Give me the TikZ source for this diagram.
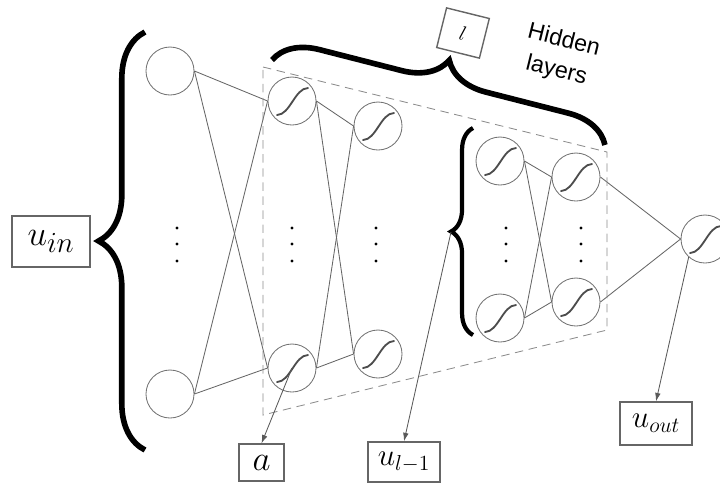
\documentclass[tikz,border=0pt]{standalone}
\usepackage{fontspec}
\newfontfamily\hfont{Liberation Sans}
\usetikzlibrary{calc, positioning, decorations.pathreplacing, arrows.meta}
\usepackage{amsmath}

\begin{document}
\begin{tikzpicture}[x=0.025cm, y=-0.025cm,
  neuron/.style={draw=black!55, line width=0.6pt, circle, minimum size=1.2cm, inner sep=0pt},
  sig/.style={neuron, path picture={\draw[black!70, line width=1.3pt, line cap=round]
    ([shift={(-15,14)}]path picture bounding box.center) .. controls +(13,0) and +(-13,0) .. ([shift={(16,-13)}]path picture bounding box.center);}},
  wire/.style={black!60, line width=0.6pt},
  lbl/.style={draw=black!60, line width=1pt, inner sep=0pt},
  brc/.style={decorate, decoration={brace, amplitude=#1}, line width=4pt},
  pick/.style={black!65, line width=0.6pt, -{Latex[length=6pt, width=4pt]}}]
\useasboundingbox (0,0) rectangle (720,483);

% neurons
\node[neuron] (i1) at (170,71) {};
\node[neuron] (i2) at (170,394) {};
\node[sig] (h1a) at (292,101) {};
\node[sig] (h1b) at (292,368) {};
\node[sig] (h2a) at (378,126) {};
\node[sig] (h2b) at (378,354) {};
\node[sig] (h3a) at (500,161) {};
\node[sig] (h3b) at (500,318) {};
\node[sig] (h4a) at (576,177) {};
\node[sig] (h4b) at (576,302) {};
\node[sig] (out) at (705,239) {};

% vertical dots
\foreach \x in {177,292,376,506,581}
  \foreach \y in {228,244,261} \fill (\x,\y) circle (1.1pt);

% connections
\foreach \a in {i1,i2} \foreach \b in {h1a,h1b} \draw[wire] (\a.east) -- (\b.west);
\foreach \a in {h1a,h1b} \foreach \b in {h2a,h2b} \draw[wire] (\a.east) -- (\b.west);
\foreach \a in {h3a,h3b} \foreach \b in {h4a,h4b} \draw[wire] (\a.east) -- (\b.west);
\foreach \a in {h4a,h4b} \draw[wire] (\a.east) -- (out.west);

% hidden block
\draw[black!45, line width=0.6pt, dash pattern=on 6pt off 4pt] (263,67) -- (607,152) -- (607,330) -- (263,415) -- cycle;

% braces
\draw[brc=33pt] (145,450) -- (145,32);
\draw[brc=31pt] (272,60) -- (605,145);
\draw[brc=15.6pt, line width=3pt] (473,335) -- (473,128);
\coordinate (ltip) at (451,232);

% labels
\node[lbl, minimum width=1.95cm, minimum height=1.27cm] (uin) at (51,241.5) {\Huge $u_{in}$};
\node[lbl, minimum width=1.1cm, minimum height=1.02cm, rotate=-14] (l) at (463,33) {\Large $l$};
\node[lbl, minimum width=1.12cm, minimum height=0.92cm] (a) at (261.5,462.5) {\Huge $a$};
\node[lbl, minimum width=1.8cm, minimum height=1cm] (ul1) at (404,462) {\scalebox{1.07}{\huge $u_{l-1}$}};
\node[lbl, minimum width=1.8cm, minimum height=1.07cm] (uout) at (656,423.5) {\scalebox{1.07}{\huge $u_{out}$}};
\node[rotate=-14, align=center, font=\hfont\fontsize{16.5}{22}\selectfont] (hid) at (560,56) {Hidden\\layers};

% outputs picked off
\draw[pick] (h1b.center) -- (a.north);
\draw[pick] (ltip) -- (ul1.north);
\draw[pick] (out.228) -- (uout.north);
\end{tikzpicture}
\end{document}
